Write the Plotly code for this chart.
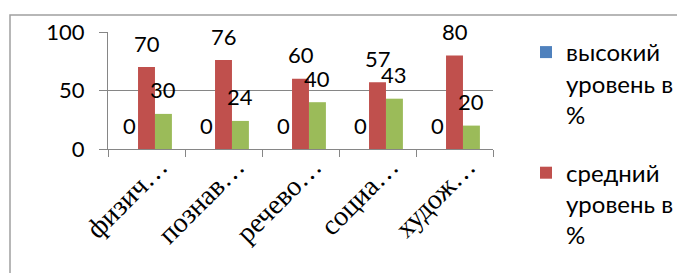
import plotly.graph_objects as go

categories = ["физич…", "познав…", "речево…", "социа…", "худож…"]
series_names = ["высокий<br>уровень в<br>%", "средний<br>уровень в<br>%", "низкий уровень в %"]
high = [0, 0, 0, 0, 0]
medium = [70, 76, 60, 57, 80]
low = [30, 24, 40, 43, 20]
colors = ["#4F81BD", "#C0504D", "#9BBB59"]
show_in_legend = [True, True, False]

# page body has an 8px margin, so the figure is drawn 8px in from the corner
OFF = 8
W, H = 685 - OFF, 273 - OFF
ml = 108 - OFF
mt = 32 - OFF
pw, ph = 385, 117
mr = W - ml - pw
mb = H - mt - ph

fig = go.Figure()
all_vals = [high, medium, low]
for i, vals in enumerate(all_vals):
    fig.add_trace(go.Bar(
        x=categories, y=vals, name=series_names[i],
        marker=dict(color=colors[i], line=dict(width=0)),
        showlegend=show_in_legend[i], legendgroup=f"g{i}",
    ))

bargap = 0.34
bar_px = pw / len(categories) * (1 - bargap) / 3
annotations = []
for i, vals in enumerate(all_vals):
    for c, v in zip(categories, vals):
        annotations.append(dict(
            x=c, y=v, xref="x", yref="y", text=str(v), showarrow=False,
            xshift=(i - 1) * bar_px, yshift=24,
            font=dict(family="Lato", size=22, color="black"),
        ))

def px_to_paper_x(px):
    return (px - OFF - ml) / pw

def px_to_paper_y(py):
    return (mt + ph - (py - OFF)) / ph

fig.update_layout(
    width=W, height=H,
    margin=dict(l=ml, r=mr, t=mt, b=mb, pad=0, autoexpand=False),
    paper_bgcolor="white", plot_bgcolor="white",
    barmode="group", bargap=bargap, bargroupgap=0,
    annotations=annotations,
    showlegend=True,
    legend=dict(
        x=px_to_paper_x(526), y=px_to_paper_y(30), xanchor="left", yanchor="top",
        font=dict(family="Lato", size=24, color="black"),
        traceorder="grouped", tracegroupgap=24, itemwidth=30, valign="top",
        bgcolor="rgba(0,0,0,0)", maxheight=260,
    ),
    shapes=[dict(
        type="rect", xref="paper", yref="paper",
        x0=px_to_paper_x(10), x1=px_to_paper_x(720),
        y0=px_to_paper_y(300), y1=px_to_paper_y(15),
        line=dict(color="#A0A0A0", width=1.5), fillcolor="rgba(0,0,0,0)", layer="below",
    )],
    xaxis=dict(
        type="category", showline=True, linecolor="#868686", linewidth=1,
        ticks="outside", tickson="boundaries", ticklen=7, tickcolor="#868686",
        tickangle=-45, tickfont=dict(family="Liberation Serif", size=28, color="black"),
        ticklabelshift=13, ticklabelstandoff=-11,
        showgrid=False,
    ),
    yaxis=dict(
        range=[0, 100], dtick=50, showline=True, linecolor="#868686", linewidth=1,
        ticks="outside", ticklen=8, tickcolor="#868686",
        showgrid=True, gridcolor="#868686", gridwidth=1, zeroline=False,
        tickfont=dict(family="Lato", size=22, color="black"),
        ticklabelstandoff=10,
    ),
)

fig.write_html("out.html")
